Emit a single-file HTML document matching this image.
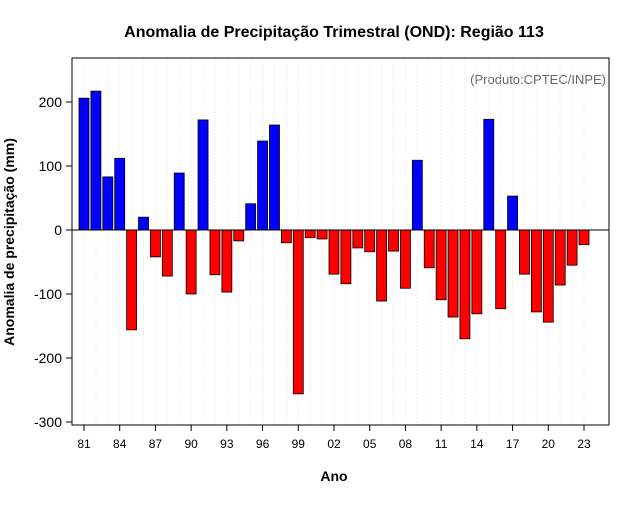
<!DOCTYPE html>
<html><head><meta charset="utf-8"><style>
body{margin:0;background:#fff;font-family:"Liberation Sans",sans-serif}
svg text{font-family:"Liberation Sans",sans-serif}
</style></head><body>
<svg id="c" width="640" height="500">
<text x="334" y="37" text-anchor="middle" font-size="16" font-weight="bold">Anomalia de Precipitação Trimestral (OND): Região 113</text>
<text x="606" y="84" text-anchor="end" font-size="13" fill="#666">(Produto:CPTEC/INPE)</text>
<text x="334" y="481" text-anchor="middle" font-size="14" font-weight="bold">Ano</text>
<text transform="translate(14,242) rotate(-90)" text-anchor="middle" font-size="14" font-weight="bold">Anomalia de precipitação (mm)</text>
<g id="grid"></g><g id="bars"></g><g id="axes"></g>
<rect x="72" y="58" width="537" height="367" fill="none" stroke="#000"/>
</svg>
<script>
const years=[81,82,83,84,85,86,87,88,89,90,91,92,93,94,95,96,97,98,99,0,1,2,3,4,5,6,7,8,9,10,11,12,13,14,15,16,17,18,19,20,21,22,23];
const values=[206,217,83,112,-156,20,-42,-72,89,-100,172,-70,-97,-17,41,139,164,-20,-256,-12,-14,-69,-84,-28,-34,-111,-33,-91,109,-59,-109,-136,-170,-131,173,-123,53,-69,-128,-144,-86,-55,-23];
const yTicks=[200,100,0,-100,-200,-300];
const ns="http://www.w3.org/2000/svg";
const X=i=>84+i*500/42, Y=v=>230-v*0.64;
function mk(t,a,p){const e=document.createElementNS(ns,t);for(const k in a)e.setAttribute(k,a[k]);document.getElementById(p).appendChild(e);return e;}
years.forEach((yr,i)=>{
 const g=mk('line',{x1:X(i),x2:X(i),y1:58,y2:425,stroke:'#ddd','stroke-dasharray':'1,2'},'grid');
 
 
 const v=values[i];
 const b=mk('rect',{x:X(i)-5,width:10,y:Math.min(Y(v),Y(0)),height:Math.abs(Y(v)-Y(0)),fill:v>=0?'#0000ff':'#ff0000',stroke:'#000','stroke-width':0.8},'bars');
 
 
 if(i%3===0){
  const t=mk('line',{x1:X(i),x2:X(i),y1:425,y2:431,stroke:'#000'},'axes');
  
  
  const l=mk('text',{x:X(i),y:448,'text-anchor':'middle','font-size':12},'axes');
  l.textContent=String(yr).padStart(2,'0');
  
  
 }
});
const z=mk('line',{x1:72,x2:609,y1:Y(0),y2:Y(0),stroke:'#000'},'bars');


yTicks.forEach(v=>{
 const t=mk('line',{x1:66,x2:72,y1:Y(v),y2:Y(v),stroke:'#000'},'axes');
 
 
 const l=mk('text',{x:62,y:Y(v)+5,'text-anchor':'end','font-size':14},'axes');
 l.textContent=v;
 
 
});
</script>
</body></html>
